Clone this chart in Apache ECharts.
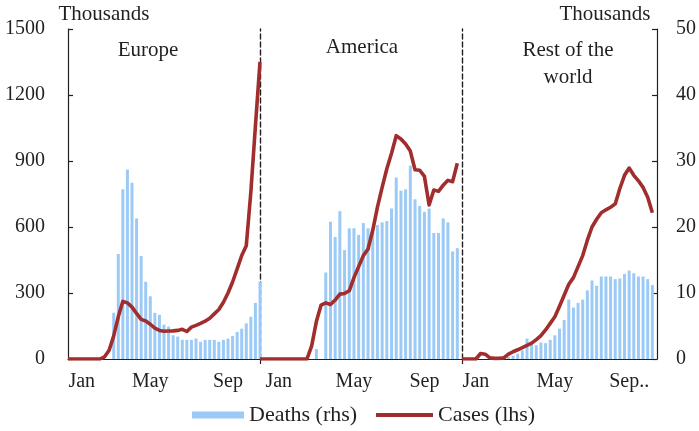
<!DOCTYPE html>
<html>
<head>
<meta charset="utf-8">
<script src="https://cdn.jsdelivr.net/npm/echarts@6/dist/echarts.min.js"></script>
<style>
  html, body { margin: 0; padding: 0; background: #fff; }
  #chart { width: 699px; height: 431px; }
</style>
</head>
<body>
<div id="chart"></div>
<script>
// Weekly new COVID-19 cases (thousands, left axis) and deaths (thousands, right axis), 2020
const regions = ['Europe', 'America', 'Rest of the\nworld'];

const europeCases = [0, 0, 0, 0, 0, 0, 0, 0, 10, 40, 105, 192, 262, 255, 236, 207, 180, 173, 158, 140,
  130, 126, 127, 128, 130, 135, 125, 145, 153, 162, 172, 185, 205, 225, 258, 300, 350, 410, 470, 515,
  760, 1060, 1350];
const europeDeaths = [null, null, null, null, null, null, null, null, null, null,
  7.0, 15.9, 25.7, 28.7, 26.7, 21.3, 15.6, 11.7, 9.5, 7.0, 6.7, 5.2, 4.9, 3.6, 3.4, 2.9, 2.9, 2.9, 3.1, 2.6,
  2.9, 2.9, 2.9, 2.6, 2.9, 3.1, 3.5, 4.1, 4.6, 5.4, 6.4, 8.5, 11.7];

const americaCases = [0, 0, 0, 0, 0, 0, 0, 0, 0, 0, 0, 60, 170, 245, 255, 248, 268, 295, 298, 310,
  370, 420, 470, 500, 585, 690, 780, 865, 935, 1015, 1000, 977, 945, 860, 858, 830, 700, 768, 762, 790,
  812, 806, 890, null];
const americaDeaths = [null, null, null, null, null, null, null, null, null, null, null, null,
  1.5, null, 13.1, 20.8, 18.5, 22.4, 16.5, 19.8, 19.8, 18.8, 20.6, 19.8, 19.3, 20.3, 20.7, 20.9, 22.8, 27.5,
  25.5, 25.7, 29.3, 24.2, 23.2, 22.3, 22.8, 19.1, 19.1, 21.3, 20.7, 16.3, 16.8, null];

const restCases = [0, 0, 0, 0, 25, 22, 5, 3, 3, 5, 22, 33, 42, 52, 62, 72, 88, 106, 132, 162,
  192, 240, 290, 340, 370, 420, 470, 540, 600, 635, 665, 678, 690, 705, 775, 835, 868, 835, 810, 780,
  735, 665, null];
const restDeaths = [null, null, null, null, null, null, null, null, null, null,
  0.3, 0.5, 0.8, 1.3, 3.1, 2.4, 2.1, 2.5, 2.4, 2.9, 3.6, 4.6, 5.9, 9.0, 7.8, 8.5, 9.0, 10.4, 11.9, 11.1,
  12.5, 12.5, 12.5, 12.1, 12.2, 12.9, 13.4, 13.0, 12.5, 12.5, 12.1, 11.2, null];

// Month labels and the week each is placed on, per panel
const monthNames = [['Jan', 'May', 'Sep'], ['Jan', 'May', 'Sep'], ['Jan', 'May', 'Sep..']];
const monthWeeks = [[3, 18, 35], [4, 20, 35], [3, 20, 36]];

const casesTicks = { min: 0, max: 1500, interval: 300 };
const deathsTicks = { min: 0, max: 50, interval: 10 };

const casesSeries = [europeCases, americaCases, restCases];
const deathsSeries = [europeDeaths, americaDeaths, restDeaths];

const FONT = '"Liberation Serif", "Times New Roman", serif';
const INK = '#231f20';
const BAR_BLUE = '#9ccaf6';
const LINE_RED = '#a12d2d';

const panels = [
  { left: 68, width: 192 },
  { left: 260, width: 202 },
  { left: 462, width: 195 }
];

const grid = panels.map(p => ({ left: p.left, width: p.width, top: 29, height: 330 }));

const xAxis = panels.map((p, g) => {
  const n = casesSeries[g].length;
  const weeks = Array.from({ length: n }, (_, i) => String(i));
  return {
    type: 'category',
    gridIndex: g,
    data: weeks,
    boundaryGap: false,
    axisLine: { lineStyle: { color: INK, width: 1.2 } },
    axisTick: {
      show: g > 0,
      interval: (i) => i === 0,
      length: 5,
      lineStyle: { color: INK, width: 1.2 }
    },
    axisLabel: {
      interval: 0,
      margin: 13,
      color: INK,
      fontFamily: FONT,
      fontSize: 20,
      formatter: (v, i) => {
        const k = monthWeeks[g].indexOf(i);
        return k >= 0 ? monthNames[g][k] : '';
      }
    },
    splitLine: { show: false }
  };
});

const plainNumber = (v) => String(v);

const yAxis = [];
panels.forEach((p, g) => {
  // cases axis (left)
  yAxis.push({
    type: 'value',
    gridIndex: g,
    position: 'left',
    min: casesTicks.min, max: casesTicks.max, interval: casesTicks.interval,
    axisLine: {
      show: true,
      lineStyle: g === 0 ? { color: INK, width: 1.2 } : { color: INK, width: 1.4, type: [5, 3] }
    },
    axisTick: { show: g === 0, inside: true, length: 5, lineStyle: { color: INK, width: 1.2 } },
    axisLabel: { show: g === 0, margin: 23, color: INK, fontFamily: FONT, fontSize: 20, formatter: plainNumber },
    splitLine: { show: false }
  });
  // deaths axis (right)
  yAxis.push({
    type: 'value',
    gridIndex: g,
    position: 'right',
    min: deathsTicks.min, max: deathsTicks.max, interval: deathsTicks.interval,
    axisLine: { show: g === 2, lineStyle: { color: INK, width: 1.2 } },
    axisTick: { show: g === 2, inside: true, length: 5, lineStyle: { color: INK, width: 1.2 } },
    axisLabel: { show: g === 2, margin: 19, color: INK, fontFamily: FONT, fontSize: 20, formatter: plainNumber },
    splitLine: { show: false }
  });
});

const series = [];
panels.forEach((p, g) => {
  series.push({
    name: 'Deaths (rhs)',
    type: 'bar',
    xAxisIndex: g,
    yAxisIndex: g * 2 + 1,
    data: deathsSeries[g],
    barWidth: 3,
    itemStyle: { color: BAR_BLUE },
    z: 2
  });
});
panels.forEach((p, g) => {
  series.push({
    name: 'Cases (lhs)',
    type: 'line',
    xAxisIndex: g,
    yAxisIndex: g * 2,
    data: casesSeries[g],
    symbol: 'none',
    connectNulls: false,
    lineStyle: { color: LINE_RED, width: 3.6, join: 'round' },
    itemStyle: { color: LINE_RED },
    z: 4
  });
});

const textStyle = { fill: INK, fontFamily: FONT, fontSize: 21, align: 'center', verticalAlign: 'middle' };

const option = {
  animation: false,
  backgroundColor: '#fff',
  grid,
  xAxis,
  yAxis,
  series,
  legend: [
    {
      data: [{ name: 'Deaths (rhs)', icon: 'rect' }],
      left: 192, top: 404, padding: 0,
      itemWidth: 52, itemHeight: 7,
      textStyle: { color: INK, fontFamily: FONT, fontSize: 22 }
    },
    {
      data: [{ name: 'Cases (lhs)', icon: 'rect' }],
      left: 376, top: 404, padding: 0,
      itemWidth: 57, itemHeight: 4,
      textStyle: { color: INK, fontFamily: FONT, fontSize: 22 }
    }
  ],
  graphic: [
    { type: 'text', x: 104, y: 14, style: Object.assign({ text: 'Thousands' }, textStyle) },
    { type: 'text', x: 605, y: 14, style: Object.assign({ text: 'Thousands' }, textStyle) },
    { type: 'text', x: 148, y: 50, style: Object.assign({ text: regions[0] }, textStyle) },
    { type: 'text', x: 362, y: 47, style: Object.assign({ text: regions[1] }, textStyle) },
    { type: 'text', x: 568, y: 37, style: Object.assign({ text: regions[2], lineHeight: 27 }, textStyle, { verticalAlign: 'top' }) }
  ]
};

const chart = echarts.init(document.getElementById('chart'), null, { renderer: 'canvas' });
chart.setOption(option);
</script>
</body>
</html>
